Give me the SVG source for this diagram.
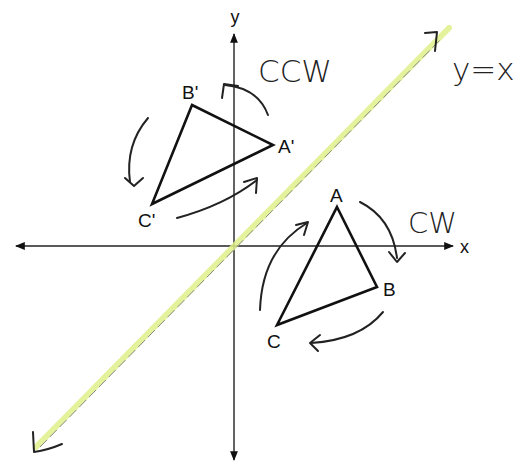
<svg xmlns="http://www.w3.org/2000/svg" width="524" height="468" viewBox="0 0 524 468">
<defs>
<marker id="ah" viewBox="0 0 10 10" refX="9" refY="5" markerWidth="7" markerHeight="7" orient="auto-start-reverse">
<path d="M0,1 L10,5 L0,9 Z" fill="#111"/>
</marker>
<style>
.axis{stroke:#222;stroke-width:1.4;fill:none}
.tri{stroke:#111;stroke-width:2.6;fill:none;stroke-linejoin:miter}
.hand{stroke:#222;stroke-width:2;fill:none;stroke-linecap:round;stroke-linejoin:round}
.lbl{font-family:"Liberation Sans",Arial,sans-serif;font-size:19px;fill:#111}
.ax{font-family:"Liberation Sans",Arial,sans-serif;font-size:18px;fill:#111}
.hw{font-family:"DejaVu Sans","Liberation Sans",sans-serif;font-size:31px;fill:#222;font-weight:300}
</style>
</defs>
<rect width="524" height="468" fill="#fff"/>
<g id="axes">
<line class="axis" x1="234" y1="460" x2="234" y2="34" marker-start="url(#ah)" marker-end="url(#ah)"/>
<line class="axis" x1="16" y1="246" x2="453" y2="246" marker-start="url(#ah)" marker-end="url(#ah)"/>
<text class="ax" x="235" y="23" text-anchor="middle">y</text>
<text class="ax" x="460" y="253">x</text>
</g>
<g id="line-yx">
<line x1="36" y1="447" x2="449" y2="28" stroke="#dff08a" stroke-width="6" stroke-linecap="round" opacity="0.85"/>
<line x1="40" y1="447" x2="440" y2="40" stroke="#888" stroke-width="1" stroke-dasharray="10 4"/>
<path class="hand" d="M425,33 L437,32 L435,51"/>
<path class="hand" d="M33,432 L34,452 Q48,450 62,444"/>
<text class="hw" x="452" y="80">y=x</text>
</g>
<g id="triangle-prime">
<polygon class="tri" points="192,105 273,145 152,204"/>
<text class="lbl" x="182" y="99">B'</text>
<text class="lbl" x="278" y="153">A'</text>
<text class="lbl" x="138" y="227">C'</text>
</g>
<g id="triangle">
<polygon class="tri" points="337,207 377,287 277,325"/>
<text class="lbl" x="330" y="202">A</text>
<text class="lbl" x="383" y="296">B</text>
<text class="lbl" x="267" y="348">C</text>
</g>
<g id="connectors">
<path class="hand" d="M268,115 Q258,88 225,85"/>
<path class="hand" d="M222,98 L224,84 L238,86"/>
<path class="hand" d="M148,118 Q125,145 130,182"/>
<path class="hand" d="M125,178 L134,186 L143,178"/>
<path class="hand" d="M177,218 Q225,205 257,180"/>
<path class="hand" d="M244,182 L257,178 L256,193"/>
<path class="hand" d="M260,310 Q262,250 307,223"/>
<path class="hand" d="M296,225 L308,222 L304,235"/>
<path class="hand" d="M360,202 Q392,218 397,258"/>
<path class="hand" d="M389,252 L397,262 L405,253"/>
<path class="hand" d="M383,312 Q360,340 311,343"/>
<path class="hand" d="M320,335 L310,343 L318,351"/>
<text class="hw" x="258" y="82">CCW</text>
<text class="hw" x="408" y="233" style="font-size:29px">CW</text>
</g>
</svg>
